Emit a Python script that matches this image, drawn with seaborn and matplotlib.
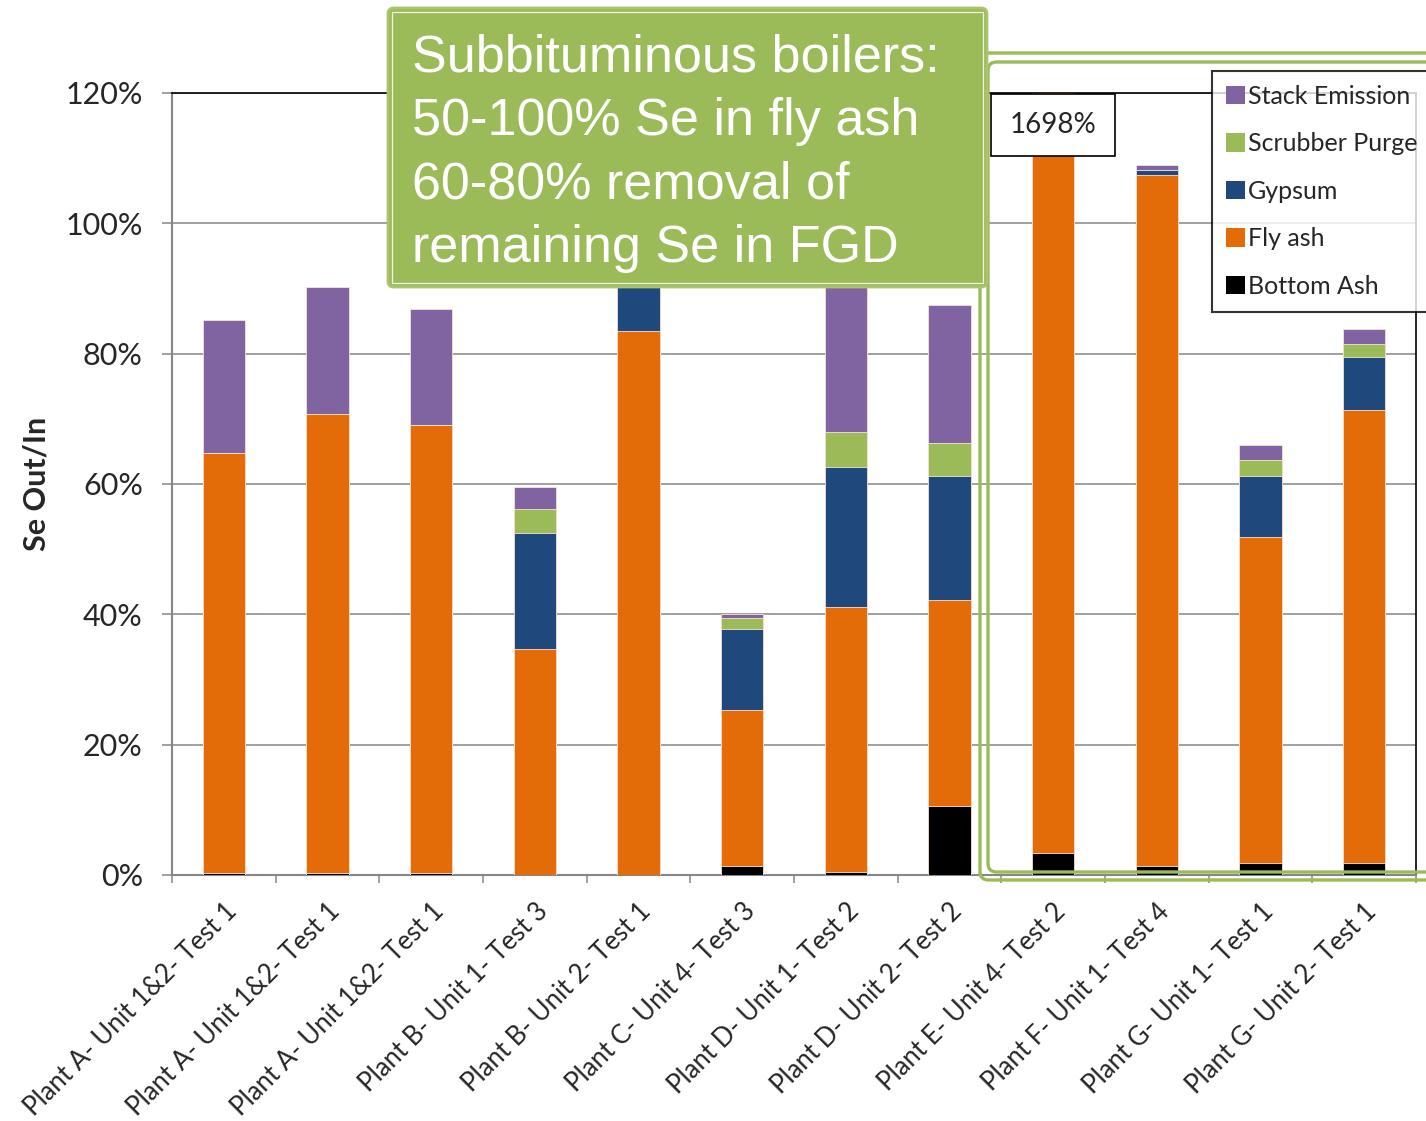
import numpy as np
import pandas as pd
import matplotlib
matplotlib.use("Agg")
import matplotlib.pyplot as plt
import seaborn as sns
from matplotlib.patches import FancyBboxPatch, Patch
from matplotlib.ticker import PercentFormatter, FixedLocator

# --- data (percent of Se in) ---
CATEGORIES = [
    "Plant A- Unit 1&2- Test 1",
    "Plant A- Unit 1&2- Test 1",
    "Plant A- Unit 1&2- Test 1",
    "Plant B- Unit 1- Test 3",
    "Plant B- Unit 2- Test 1",
    "Plant C- Unit 4- Test 3",
    "Plant D- Unit 1- Test 2",
    "Plant D- Unit 2- Test 2",
    "Plant E- Unit 4- Test 2",
    "Plant F- Unit 1- Test 4",
    "Plant G- Unit 1- Test 1",
    "Plant G- Unit 2- Test 1",
]
BOTTOM_ASH = [0.3, 0.3, 0.3, 0.0, 0.0, 1.4, 0.5, 10.6, 3.4, 1.4, 1.8, 1.8]
FLY_ASH = [64.5, 70.5, 68.8, 34.7, 83.5, 23.9, 40.6, 31.6, 1694.6, 106.0, 50.1, 69.6]
GYPSUM = [0.0, 0.0, 0.0, 17.8, 10.0, 12.5, 21.5, 19.0, 0.0, 0.8, 9.3, 8.1]
SCRUBBER_PURGE = [0.0, 0.0, 0.0, 3.7, 0.0, 1.6, 5.4, 5.1, 0.0, 0.0, 2.5, 2.0]
STACK_EMISSION = [20.4, 19.5, 17.8, 3.4, 0.0, 0.7, 27.0, 21.2, 0.0, 0.8, 2.3, 2.3]

LAYERS = ["Bottom Ash", "Fly ash", "Gypsum", "Scrubber Purge", "Stack Emission"]
COLORS = {
    "Bottom Ash": "#000000",
    "Fly ash": "#E36C09",
    "Gypsum": "#1F497D",
    "Scrubber Purge": "#9BBB59",
    "Stack Emission": "#8064A2",
}
NOTE_LINES = [
    "Subbituminous boilers:",
    "50-100% Se in fly ash",
    "60-80% removal of",
    "remaining Se in FGD",
]

W, H = 1426, 1121
CALIBRI_LIKE = ["Lato", "DejaVu Sans"]
ARIAL_LIKE = ["Liberation Sans", "DejaVu Sans"]


def fx(x):
    return x / W


def fy(y):
    return 1 - y / H


df = pd.DataFrame({
    "pos": np.arange(len(CATEGORIES)),
    "Bottom Ash": BOTTOM_ASH,
    "Fly ash": FLY_ASH,
    "Gypsum": GYPSUM,
    "Scrubber Purge": SCRUBBER_PURGE,
    "Stack Emission": STACK_EMISSION,
})
cum = df[LAYERS].cumsum(axis=1) / 100.0

sns.set_theme(style="white")
plt.rcParams["font.family"] = CALIBRI_LIKE

fig = plt.figure(figsize=(W / 100, H / 100), dpi=100)
ax = fig.add_axes([fx(172), fy(875), fx(1416) - fx(172), fy(93) - fy(875)])

# stacked bars: draw cumulative totals from the top layer down
for layer in reversed(LAYERS):
    sns.barplot(
        x=df["pos"], y=cum[layer], color=COLORS[layer], saturation=1,
        width=0.41, errorbar=None, ax=ax, linewidth=0.6, edgecolor="#f7e3d3",
        zorder=3,
    )

ax.set_ylim(0, 1.2)
ax.set_xlim(-0.5, len(CATEGORIES) - 0.5)
ax.yaxis.set_major_locator(FixedLocator(np.arange(0, 1.21, 0.2)))
ax.yaxis.set_major_formatter(PercentFormatter(1.0, decimals=0))
ax.grid(axis="y", color="#868686", linewidth=1.1, zorder=0)
ax.set_axisbelow(True)

ax.set_xticks(np.arange(len(CATEGORIES)))
ax.set_xticklabels(CATEGORIES, rotation=45, ha="right", rotation_mode="anchor",
                   fontsize=18.5, family=CALIBRI_LIKE)
ax.set_xticks(np.arange(len(CATEGORIES) + 1) - 0.5, minor=True)
ax.tick_params(axis="x", which="major", length=0, pad=17)
ax.tick_params(axis="x", which="minor", length=6, width=1.1, color="#868686",
               direction="out", bottom=True)
ax.tick_params(axis="y", length=7, width=1.1, color="#868686", direction="out",
               left=True, pad=14, labelsize=22)
ax.set_xlabel("")
ax.set_ylabel("Se Out/In", fontsize=22, fontweight="bold", family=CALIBRI_LIKE)
ax.yaxis.set_label_coords(-0.098, 0.5)

for side in ["left", "bottom"]:
    ax.spines[side].set_color("#868686")
    ax.spines[side].set_linewidth(1.5)
for side in ["top", "right"]:
    ax.spines[side].set_color("black")
    ax.spines[side].set_linewidth(1.2)

# off-scale total label for Plant E
total_e = df.loc[8, LAYERS].sum()
ax.text(8, 1.151, f"{total_e:.0f}%", ha="center", va="center", fontsize=20,
        family=CALIBRI_LIKE, zorder=6,
        bbox=dict(boxstyle="square,pad=0.66", fc="white", ec="black", lw=1.2))

# legend
handles = [Patch(facecolor=COLORS[l], edgecolor="none") for l in reversed(LAYERS)]
leg = fig.legend(
    handles, list(reversed(LAYERS)), loc="upper left",
    bbox_to_anchor=(fx(1212), fy(71)), bbox_transform=fig.transFigure,
    frameon=True, fancybox=False, fontsize=18, handlelength=0.75,
    handleheight=0.75, handletextpad=0.12, labelspacing=0.98,
    borderpad=0.55, borderaxespad=0,
)
leg.get_frame().set_edgecolor("black")
leg.get_frame().set_linewidth(1.5)
for t in leg.get_texts():
    t.set_family(CALIBRI_LIKE)

# green double-line bracket around subbituminous units
asp = W / H
for x0, y0, x1, y1 in [(980, 53, 1450, 880), (988, 62, 1442, 872)]:
    fig.patches.append(FancyBboxPatch(
        (fx(x0), fy(y1)), fx(x1) - fx(x0), fy(y0) - fy(y1),
        boxstyle="round,pad=0,rounding_size=0.006", mutation_aspect=asp,
        transform=fig.transFigure, fc="none", ec="#9BBB59", lw=2.4, zorder=5,
    ))

# green note box
fig.patches.append(FancyBboxPatch(
    (fx(388), fy(287)), fx(987) - fx(388), fy(8) - fy(287),
    boxstyle="round,pad=0,rounding_size=0.004", mutation_aspect=asp,
    transform=fig.transFigure, fc="#9BBB59", ec="#A9C46F", lw=2, zorder=7,
))
fig.patches.append(FancyBboxPatch(
    (fx(392), fy(283)), fx(983) - fx(392), fy(12) - fy(283),
    boxstyle="square,pad=0", transform=fig.transFigure,
    fc="none", ec="#EEF4E0", lw=0.9, zorder=7,
))
for i, line in enumerate(NOTE_LINES):
    fig.text(fx(412), fy(72 + 63.3 * i), line, ha="left", va="baseline",
             fontsize=37.5, color="white", family=ARIAL_LIKE, zorder=8)

fig.savefig("out.png", dpi=100)
